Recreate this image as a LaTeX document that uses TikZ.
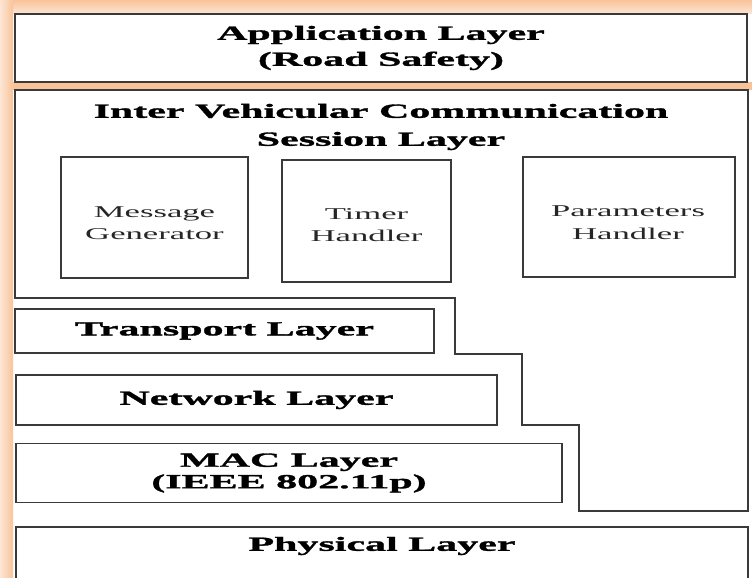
\documentclass[tikz,border=0pt]{standalone}
\usepackage{fontspec}
\setmainfont{Liberation Serif}
\newfontfamily\layerfont{Liberation Serif}[FakeStretch=2.1, FakeBold=1.6]
\newfontfamily\partfont{Liberation Serif}[FakeStretch=2.1]
\definecolor{glow}{HTML}{F9C39A}
\definecolor{glowlight}{HTML}{FDE6D5}
\definecolor{edge}{HTML}{3A3A3A}

\begin{document}
\begin{tikzpicture}[x=1pt, y=-1pt,
    every node/.style={align=center},
    layer/.style={draw=edge, line width=1.3pt, inner sep=0pt,
        font=\layerfont\bfseries\fontsize{20}{26}\selectfont},
    title/.style={font=\layerfont\bfseries\fontsize{20}{28}\selectfont},
    part/.style={draw=edge, line width=1.3pt, inner sep=0pt},
    parttext/.style={font=\partfont\fontsize{16.5}{22.5}\selectfont, text=black!85}]
    \useasboundingbox (0,0) rectangle (752,578);
    \clip (0,0) rectangle (752,578);
    \fill[white] (0,0) rectangle (752,578);

    \shade[top color=glow, bottom color=glowlight] (0,0) rectangle (752,14);
    \fill[glow] (0,82) rectangle (752,90);
    \shade[left color=glowlight, right color=glow] (0,0) rectangle (13,578);

    \node[layer, fill=white, minimum width=732, minimum height=68] (app) at (381,48)
        {Application Layer\\(Road Safety)};

    \draw[edge, line width=1.3pt, fill=white] (15,90) -- (748,90) -- (748,511) -- (579,511)
        -- (579,425) -- (522,425) -- (522,354) -- (455,354) -- (455,298) -- (15,298) -- cycle;
    \node[title] (session) at (381,127) {Inter Vehicular Communication\\Session Layer};

    \node[part, minimum width=187, minimum height=121] (msg) at (154.5,217.5) {};
    \node[part, minimum width=169, minimum height=122] (timer) at (366.5,221) {};
    \node[part, minimum width=212, minimum height=120] (param) at (629,217) {};
    \node[parttext] (msgtext) at (154.5,223) {Message\\Generator};
    \node[parttext] (timertext) at (366.5,225) {Timer\\Handler};
    \node[parttext] (paramtext) at (628,222.5) {Parameters\\Handler};

    \node[layer, minimum width=419, minimum height=44] (transport) at (224.5,331) {Transport Layer};
    \node[layer, minimum width=481, minimum height=50] (network) at (256.5,400) {Network Layer};
    \node[layer, minimum width=546, minimum height=59] (mac) at (289,473) {MAC Layer\\[-4.5pt](IEEE 802.11p)};

    \draw[edge, line width=1.3pt] (16,590) -- (16,527) -- (748,527) -- (748,590);
    \node[title] (physical) at (382,546) {Physical Layer};
\end{tikzpicture}
\end{document}
